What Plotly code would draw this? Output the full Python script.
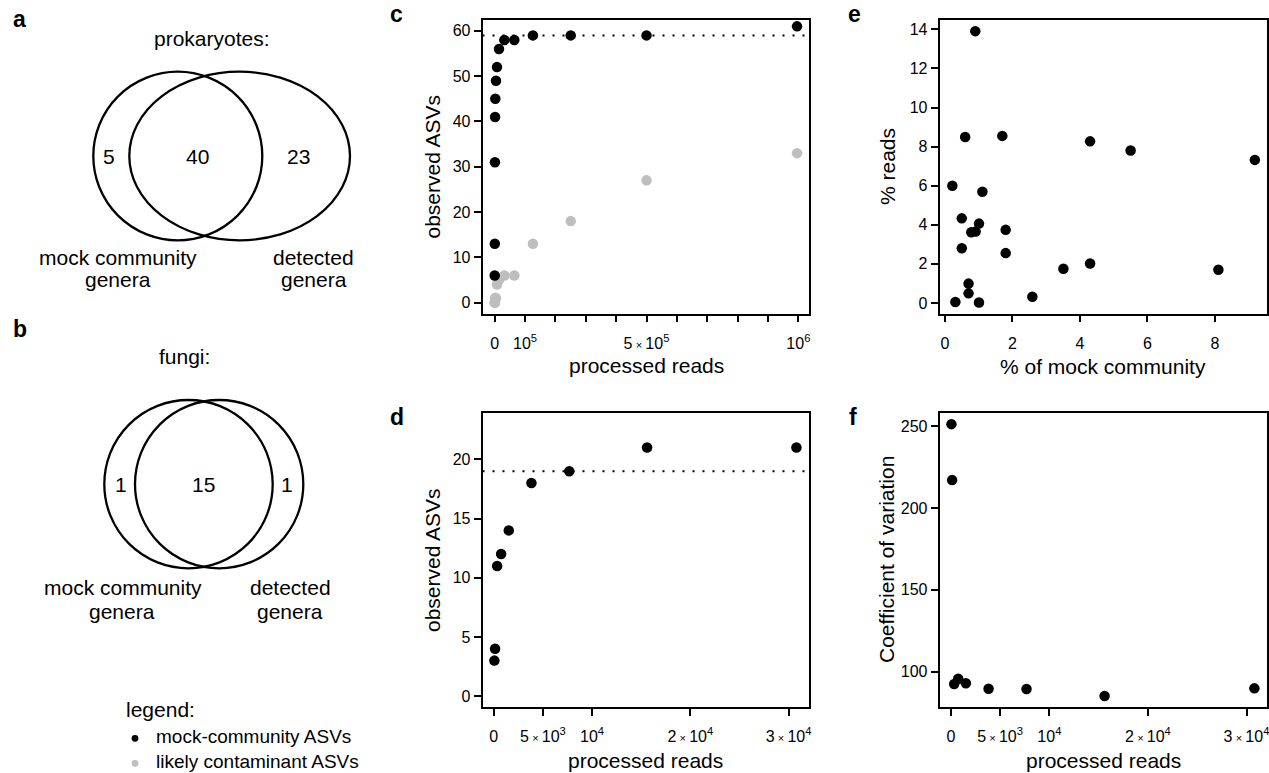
import plotly.graph_objects as go

W, H = 1269, 773
FONT = "Liberation Sans, Arial, Helvetica, sans-serif"
GRAY = "#BEBEBE"

# ---------------- data ----------------
# panel a / b Venn counts
prok_counts = [5, 40, 23]      # mock only, shared, detected only
fungi_counts = [1, 15, 1]

# panel c: prokaryotes rarefaction
c_reads = [200, 500, 1000, 1500, 2200, 4400, 7700, 14300, 31900, 64800, 126000, 250500, 500000, 995600]
c_mock = [6, 13, 31, 41, 45, 49, 52, 56, 58, 58, 59, 59, 59, 61]
c_contam = [0, 0, 0, 1, 1, 1, 4, 5, 6, 6, 13, 18, 27, 33]
c_expected = 59

# panel d/f: fungi rarefaction
d_reads = [60, 130, 340, 746, 1525, 3830, 7680, 15600, 30800]
d_mock = [3, 4, 11, 12, 14, 18, 19, 21, 21]
d_expected = 19
f_cv = [251.2, 217, 92.5, 95.7, 92.9, 89.6, 89.4, 85.1, 89.8]

# panel e: % of mock community vs % reads
e_mock_pct = [0.90, 0.60, 1.70, 4.30, 5.50, 9.18, 0.22, 1.11, 0.50, 1.01, 0.78, 0.91,
              1.80, 0.50, 1.80, 3.51, 4.30, 8.10, 2.59, 0.70, 0.70, 0.31, 1.01]
e_reads_pct = [13.91, 8.49, 8.55, 8.27, 7.80, 7.32, 6.00, 5.69, 4.33, 4.06, 3.62, 3.65,
               3.74, 2.80, 2.55, 1.75, 2.02, 1.70, 0.32, 0.99, 0.49, 0.05, 0.02]

# legend
legend_names = ["mock-community ASVs", "likely contaminant ASVs"]
legend_colors = ["black", GRAY]

# tick labels
TIMES = "\u2009<span style='font-size:11px'>\u00d7</span>\u2009"
c_xticks = [0, 1e5, 5e5, 1e6]
c_xlabels = ["0", "10<sup>5</sup>", "5" + TIMES + "10<sup>5</sup>", "10<sup>6</sup>"]
df_xticks = [0, 5000, 10000, 20000, 30000]
df_xlabels = ["0", "5" + TIMES + "10<sup>3</sup>", "10<sup>4</sup>",
              "2" + TIMES + "10<sup>4</sup>", "3" + TIMES + "10<sup>4</sup>"]


def X(px):
    return px / W


def Y(py):
    return 1 - py / H


fig = go.Figure()

mk = dict(size=10.5, line=dict(width=0))

# panel c
fig.add_trace(go.Scatter(x=c_reads, y=c_contam, mode="markers", marker=dict(color=GRAY, **mk),
                         xaxis="x", yaxis="y", name=legend_names[1]))
fig.add_trace(go.Scatter(x=c_reads, y=c_mock, mode="markers", marker=dict(color="black", **mk),
                         xaxis="x", yaxis="y", name=legend_names[0]))
c_xr = [-40000, 1035000]
fig.add_trace(go.Scatter(x=c_xr, y=[c_expected, c_expected], mode="lines",
                         line=dict(color="black", width=2, dash="2px,8px"),
                         xaxis="x", yaxis="y", hoverinfo="skip"))

# panel d
d_xr = [-1150, 32080]
fig.add_trace(go.Scatter(x=d_xr, y=[d_expected, d_expected], mode="lines",
                         line=dict(color="black", width=2, dash="2px,8px"),
                         xaxis="x2", yaxis="y2", hoverinfo="skip"))
fig.add_trace(go.Scatter(x=d_reads, y=d_mock, mode="markers", marker=dict(color="black", **mk),
                         xaxis="x2", yaxis="y2", name=legend_names[0]))

# panel e
fig.add_trace(go.Scatter(x=e_mock_pct, y=e_reads_pct, mode="markers", marker=dict(color="black", **mk),
                         xaxis="x3", yaxis="y3", name=legend_names[0]))

# panel f
fig.add_trace(go.Scatter(x=d_reads, y=f_cv, mode="markers", marker=dict(color="black", **mk),
                         xaxis="x4", yaxis="y4", name=legend_names[0]))


def axis(dom_px, rng, tickvals, ticktext=None, horizontal=True, standoff=None, minor_dtick=None):
    a = dict(domain=[X(dom_px[0]), X(dom_px[1])] if horizontal else [Y(dom_px[1]), Y(dom_px[0])],
             range=rng, tickmode="array", tickvals=tickvals,
             showline=True, mirror=True, linecolor="black", linewidth=1.6,
             ticks="outside", ticklen=7, tickwidth=1.6, tickcolor="black",
             showgrid=False, zeroline=False, ticklabeloverflow="allow",
             tickfont=dict(family=FONT, size=16, color="black"))
    if ticktext is not None:
        a["ticktext"] = ticktext
    if standoff is not None:
        a["ticklabelstandoff"] = standoff
    if minor_dtick is not None:
        a["minor"] = dict(ticks="outside", ticklen=7, tickwidth=1.6, tickcolor="black",
                          tickmode="linear", tick0=0, dtick=minor_dtick, showgrid=False)
    return a


c_box = (482.5, 809, 20, 313.5)
d_box = (482.5, 809, 413, 707)
e_box = (939.5, 1267, 20, 313.5)
f_box = (939.5, 1267, 413, 707)

XS, YS = 7, 0
layout = dict(
    width=W, height=H, margin=dict(l=0, r=0, t=0, b=0, autoexpand=False),
    paper_bgcolor="white", plot_bgcolor="white",
    font=dict(family=FONT, color="black"),
    showlegend=False,
    xaxis=axis(c_box[:2], c_xr, c_xticks, c_xlabels, True, XS, minor_dtick=1e5),
    yaxis=axis(c_box[2:], [-2.4, 62.4], [0, 10, 20, 30, 40, 50, 60], None, False, YS),
    xaxis2=axis(d_box[:2], d_xr, df_xticks, df_xlabels, True, XS),
    yaxis2=axis(d_box[2:], [-0.92, 23.92], [0, 5, 10, 15, 20], None, False, YS),
    xaxis3=axis(e_box[:2], [-0.16, 9.54], [0, 2, 4, 6, 8], None, True, XS),
    yaxis3=axis(e_box[2:], [-0.54, 14.48], [0, 2, 4, 6, 8, 10, 12, 14], None, False, YS),
    xaxis4=axis(f_box[:2], d_xr, df_xticks, df_xlabels, True, XS),
    yaxis4=axis(f_box[2:], [78.4, 258], [100, 150, 200, 250], None, False, YS),
)
for i in ["", "2", "3", "4"]:
    layout["xaxis" + i]["anchor"] = "y" + i
    layout["yaxis" + i]["anchor"] = "x" + i
fig.update_layout(**layout)

# ---------------- Venn shapes ----------------
def ellipse(x0, x1, y0, y1, width=2.3, fill="rgba(0,0,0,0)", color="black"):
    return dict(type="circle", xref="paper", yref="paper",
                x0=X(x0), x1=X(x1), y0=Y(y1), y1=Y(y0),
                line=dict(color=color, width=width), fillcolor=fill)


fig.add_shape(**ellipse(93.3, 262.3, 71.7, 240.3))
fig.add_shape(**ellipse(129.3, 350, 71.7, 240.3))
fig.add_shape(**ellipse(104.3, 272.7, 400, 568.3))
fig.add_shape(**ellipse(135, 303.3, 400, 568.3))

# ---------------- text ----------------
def txt(px, py, s, size=21, bold=False, angle=0, xanchor="center"):
    fig.add_annotation(x=X(px), y=Y(py), xref="paper", yref="paper", text=f"<b>{s}</b>" if bold else s,
                       showarrow=False, xanchor=xanchor, yanchor="middle", textangle=angle,
                       font=dict(family=FONT, size=size, color="black"))


# panel letters
txt(19.5, 19, "a", 23, True)
txt(19.5, 329, "b", 23, True)
txt(396.5, 13.5, "c", 23, True)
txt(396.5, 417, "d", 23, True)
txt(854, 14, "e", 23, True)
txt(853, 417, "f", 23, True)

# Venn a
txt(212.3, 38.7, "prokaryotes:")
txt(109.3, 156.7, str(prok_counts[0]))
txt(197.7, 156.7, str(prok_counts[1]))
txt(298.3, 156.7, str(prok_counts[2]))
txt(118.3, 257.7, "mock community")
txt(118.3, 280, "genera")
txt(313.3, 257.7, "detected")
txt(313.6, 280, "genera")

# Venn b
txt(184.3, 356.7, "fungi:")
txt(120.7, 484.4, str(fungi_counts[0]))
txt(203.3, 484.4, str(fungi_counts[1]))
txt(287.3, 484.4, str(fungi_counts[2]))
txt(122.5, 587.7, "mock community")
txt(122.3, 611, "genera")
txt(290, 587.7, "detected")
txt(290, 611, "genera")

# axis titles
txt(432, 166.5, "observed ASVs", angle=-90)
txt(646, 365, "processed reads")
txt(432, 560, "observed ASVs", angle=-90)
txt(645, 760, "processed reads")
txt(887, 167, "% reads", angle=-90)
txt(1103, 366.7, "% of mock community")
txt(886, 560, "Coefficient of variation", angle=-90)
txt(1103, 760, "processed reads")

# legend (key drawn as text + symbols)
txt(124, 709.4, "legend:", 21, xanchor="left")
for k, (nm, col) in enumerate(zip(legend_names, legend_colors)):
    cy = 738.3 + 25 * k
    fig.add_shape(**ellipse(131.6, 138.4, cy - 3.4, cy + 3.4, width=0, fill=col, color=col))
    txt(154.3, 736 + 25 * k, nm, 19, xanchor="left")

fig.write_html("out.html", config={"displayModeBar": False},
               post_script="document.body.style.margin='0px';document.body.style.overflow='hidden';")
